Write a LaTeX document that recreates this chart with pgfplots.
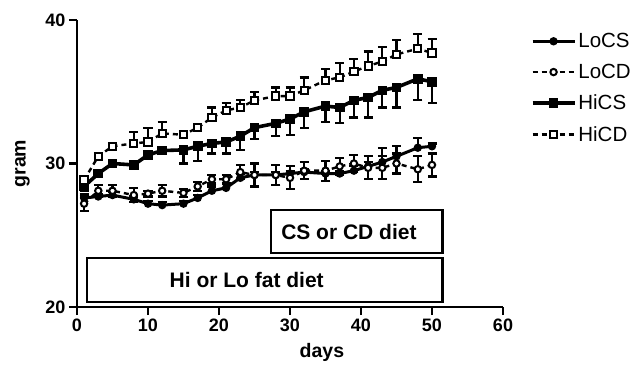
\documentclass[border=0pt]{standalone}
\usepackage{fontspec}
\setmainfont{Liberation Sans}
\usepackage{pgfplots}
\usepackage{pgfplotstable}
\pgfplotsset{compat=1.18}

\pgfplotstableread{
x y e
1 27.6 0.3
3 27.7 0.2
5 27.8 0.2
8 27.5 0.2
10 27.2 0.2
12 27.1 0.2
15 27.2 0.2
17 27.6 0.2
19 28.1 0.3
21 28.3 0.3
23 29.0 0.3
25 29.2 0.2
28 29.2 0.2
30 29.3 0.2
32 29.4 0.2
35 29.3 0.2
37 29.3 0.2
39 29.5 0.3
41 29.8 0.3
43 30.1 1.0
45 30.5 0.7
48 31.1 0.7
50 31.2 0.2
}\locs

\pgfplotstableread{
x y e
1 27.2 0.5
3 28.1 0.4
5 28.1 0.4
8 27.8 0.5
10 27.9 0.2
12 28.1 0.4
15 27.95 0.3
17 28.4 0.3
19 28.9 0.3
21 28.9 0.3
23 29.4 0.5
25 29.2 0.8
28 29.2 0.7
30 29.0 0.8
32 29.5 0.6
35 29.5 0.7
37 29.8 0.6
39 30.0 0.6
41 29.7 0.8
43 29.7 0.8
45 30.0 0.7
48 29.6 0.9
50 29.9 0.8
}\locd

\pgfplotstableread{
x y e
1 28.4 0.3
3 29.3 0.2
5 30.0 0.2
8 29.9 0.2
10 30.6 0.2
12 30.9 0.2
15 30.95 0.95
17 31.2 1.0
19 31.4 0.7
21 31.5 0.8
23 31.9 0.95
25 32.5 0.8
28 32.8 0.9
30 33.1 1.1
32 33.6 1.1
35 34.0 1.1
37 33.9 1.1
39 34.4 1.2
41 34.6 1.4
43 35.1 1.2
45 35.3 1.4
48 35.9 1.5
50 35.7 1.5
}\hics

\pgfplotstableread{
x y e
1 28.85 0.3
3 30.5 0.2
5 31.2 0.2
8 31.4 0.8
10 31.5 1.0
12 32.1 0.8
15 32.0 0.2
17 32.5 0.2
19 33.2 0.7
21 33.7 0.5
23 33.9 0.5
25 34.4 0.6
28 34.7 0.6
30 34.7 0.6
32 35.1 0.9
35 35.8 0.8
37 36.0 1.0
39 36.4 0.9
41 36.8 1.0
43 37.1 1.0
45 37.6 1.0
48 38.0 1.0
50 37.7 1.0
}\hicd

\begin{document}
\begin{tikzpicture}
\begin{axis}[
  name=ax,
  scale only axis,
  width=426bp, height=287bp,
  xmin=0, xmax=60, ymin=20, ymax=40,
  axis lines=left,
  axis line style={-, line width=2.8bp},
  xtick={0,10,...,60}, ytick={20,30,40},
  minor tick num=0,
  tick align=outside,
  major tick length=8bp,
  tick style={line width=2.5bp, black},
  /pgf/number format/assume math mode=true,
  ticklabel style={font=\bfseries\fontsize{18bp}{20bp}\selectfont},
  xlabel={days}, ylabel={gram},
  label style={font=\bfseries\fontsize{19.5bp}{21bp}\selectfont},
  xlabel style={at={(axis description cs:0.575,-0.158)}, anchor=center},
  ylabel style={at={(axis description cs:-0.128,0.5)}, anchor=center, rotate=0},
  clip=false,
  legend style={draw=none, fill=none, font=\fontsize{20.5bp}{22bp}\selectfont,
    at={(axis description cs:1.06,0.968)}, anchor=north west,
    row sep=11bp, inner sep=2bp},
  legend cell align=left,
  legend image code/.code={\draw[mark repeat=2,mark phase=2,#1] plot coordinates {(0bp,0bp) (21bp,0bp) (42bp,0bp)};},
  error bars/error bar style={line width=2.2bp, solid},
  error bars/error mark options={rotate=90, mark size=4.5bp, line width=2.2bp, solid},
]
\addplot[black, line width=3bp, mark=*, mark size=2.6bp,
  error bars/.cd, y dir=plus, y explicit]
  table[x=x, y=y, y error=e] {\locs};
\addlegendentry{LoCS}
\addplot[black, line width=2.4bp, dash pattern=on 5bp off 4bp, mark=*, mark size=3.2bp,
  mark options={solid, fill=white, line width=2bp},
  error bars/.cd, y dir=both, y explicit]
  table[x=x, y=y, y error=e] {\locd};
\addlegendentry{LoCD}
\addplot[black, line width=3.6bp, mark=square*, mark size=3bp,
  error bars/.cd, y dir=minus, y explicit]
  table[x=x, y=y, y error=e] {\hics};
\addlegendentry{HiCS}
\addplot[black, line width=2.4bp, dash pattern=on 5bp off 4bp, mark=square*, mark size=3.6bp,
  mark options={solid, fill=white, line width=2bp},
  error bars/.cd, y dir=plus, y explicit]
  table[x=x, y=y, y error=e] {\hicd};
\addlegendentry{HiCD}

\draw[line width=2.5bp, fill=white] (axis cs:1.4,20.35) rectangle (axis cs:51.5,23.4);
\node[font=\bfseries\fontsize{21bp}{23bp}\selectfont] at (axis cs:23.9,21.9) {Hi or Lo fat diet};
\draw[line width=2.5bp, fill=white] (axis cs:27.3,23.75) rectangle (axis cs:51.5,26.76);
\node[font=\bfseries\fontsize{21bp}{23bp}\selectfont] at (axis cs:38.3,25.25) {CS or CD diet};
\end{axis}
\pgfresetboundingbox
\path[use as bounding box] ([xshift=-77bp,yshift=-64bp]ax.south west) rectangle ([xshift=137bp,yshift=20bp]ax.north east);
\end{tikzpicture}
\end{document}
